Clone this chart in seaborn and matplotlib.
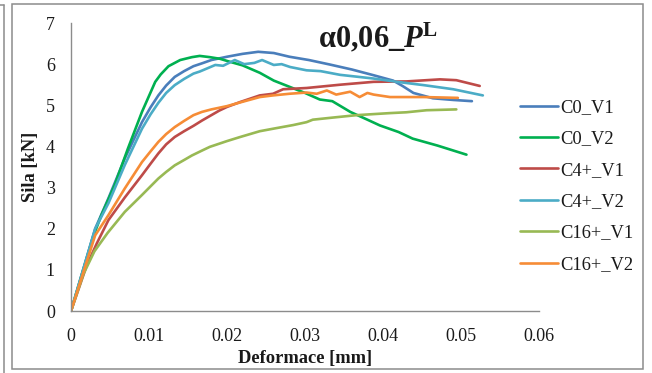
import matplotlib
matplotlib.use('Agg')
import matplotlib.pyplot as plt
from matplotlib.lines import Line2D
from matplotlib.patches import Rectangle
import pandas as pd
import seaborn as sns

# hodnoty (deformace v mm, sila v kN)
c0_v1_x = [0, 0.0031, 0.0048, 0.0069, 0.0091, 0.0102, 0.0112, 0.0122, 0.0133, 0.0145, 0.0157, 0.0168,
           0.018, 0.02, 0.022, 0.024, 0.026, 0.028, 0.0305, 0.0332, 0.036, 0.0388, 0.0413, 0.0425,
           0.0439, 0.0464, 0.049, 0.0514]
c0_v1_y = [0, 2.0, 2.74, 3.71, 4.59, 4.95, 5.24, 5.48, 5.69, 5.83, 5.95, 6.02,
           6.1, 6.18, 6.25, 6.3, 6.27, 6.18, 6.1, 5.99, 5.87, 5.73, 5.6, 5.47,
           5.3, 5.17, 5.13, 5.1]

c0_v2_x = [0, 0.0029, 0.0039, 0.0056, 0.0073, 0.0091, 0.0108, 0.0115, 0.0125, 0.014, 0.0155, 0.0165,
           0.0178, 0.0191, 0.0205, 0.022, 0.0242, 0.026, 0.028, 0.03, 0.0319, 0.0335, 0.0358, 0.038,
           0.0396, 0.042, 0.0438, 0.047, 0.0507]
c0_v2_y = [0, 1.84, 2.33, 3.06, 3.95, 4.84, 5.57, 5.75, 5.95, 6.1, 6.17, 6.2,
           6.17, 6.13, 6.05, 5.97, 5.79, 5.6, 5.45, 5.3, 5.14, 5.1, 4.84, 4.65,
           4.51, 4.35, 4.19, 4.02, 3.8]

c4_v1_x = [0, 0.002, 0.0033, 0.0048, 0.0069, 0.0091, 0.0102, 0.0112, 0.0122, 0.0133, 0.0145, 0.0157,
           0.0168, 0.019, 0.02, 0.0217, 0.0242, 0.0259, 0.0272, 0.0302, 0.0345, 0.0388, 0.043, 0.0473,
           0.0494, 0.0524]
c4_v1_y = [0, 1.1, 1.64, 2.21, 2.76, 3.3, 3.58, 3.83, 4.05, 4.23, 4.37, 4.5,
           4.63, 4.87, 4.96, 5.08, 5.24, 5.28, 5.39, 5.42, 5.5, 5.57, 5.58, 5.63,
           5.61, 5.47]

c4_v2_x = [0, 0.0031, 0.0048, 0.0069, 0.0091, 0.0102, 0.0112, 0.0122, 0.0133, 0.0145, 0.0157, 0.0165,
           0.0175, 0.0185, 0.0195, 0.021, 0.0222, 0.0235, 0.0245, 0.026, 0.027, 0.0281, 0.0302, 0.032,
           0.0345, 0.0388, 0.0418, 0.0452, 0.049, 0.0528]
c4_v2_y = [0, 2.0, 2.62, 3.55, 4.43, 4.78, 5.06, 5.3, 5.49, 5.64, 5.77, 5.82,
           5.9, 5.98, 5.96, 6.1, 6.0, 6.03, 6.1, 5.98, 6.0, 5.93, 5.85, 5.83,
           5.74, 5.65, 5.57, 5.49, 5.39, 5.24]

c16_v1_x = [0, 0.0016, 0.003, 0.0047, 0.0069, 0.0091, 0.0102, 0.0112, 0.0122, 0.0133, 0.0145, 0.0155,
            0.0168, 0.0178, 0.02, 0.0217, 0.0242, 0.0259, 0.0285, 0.0302, 0.031, 0.0335, 0.0366, 0.0409,
            0.043, 0.0456, 0.0494]
c16_v1_y = [0, 0.9, 1.45, 1.9, 2.41, 2.82, 3.03, 3.22, 3.38, 3.54, 3.67, 3.78,
            3.9, 3.99, 4.13, 4.23, 4.37, 4.43, 4.52, 4.59, 4.65, 4.7, 4.76, 4.81,
            4.83, 4.88, 4.9]

c16_v2_x = [0, 0.0031, 0.0048, 0.0069, 0.0091, 0.0102, 0.0112, 0.0122, 0.0133, 0.0145, 0.0157, 0.0168,
            0.018, 0.02, 0.0217, 0.0242, 0.0259, 0.028, 0.0302, 0.0315, 0.0328, 0.034, 0.0358, 0.037,
            0.038, 0.0388, 0.0409, 0.0452, 0.0496]
c16_v2_y = [0, 1.84, 2.33, 2.98, 3.62, 3.88, 4.11, 4.3, 4.47, 4.62, 4.76, 4.84,
            4.9, 4.98, 5.07, 5.2, 5.24, 5.28, 5.31, 5.28, 5.36, 5.26, 5.33, 5.2,
            5.3, 5.26, 5.2, 5.2, 5.18]

serie = ['C0_V1', 'C0_V2', 'C4+_V1', 'C4+_V2', 'C16+_V1', 'C16+_V2']
barvy = ['#4A7EBB', '#00B050', '#BE4B48', '#4BACC6', '#98B954', '#F68C36']

xs = [c0_v1_x, c0_v2_x, c4_v1_x, c4_v2_x, c16_v1_x, c16_v2_x]
ys = [c0_v1_y, c0_v2_y, c4_v1_y, c4_v2_y, c16_v1_y, c16_v2_y]

rows = []
for name, x, y in zip(serie, xs, ys):
    for a, b in zip(x, y):
        rows.append({'Deformace': a, 'Sila': b, 'serie': name})
df = pd.DataFrame(rows)

sns.set_style('white')
plt.rcParams['font.family'] = ['Liberation Serif', 'DejaVu Serif']
plt.rcParams['mathtext.fontset'] = 'custom'
plt.rcParams['mathtext.rm'] = 'Liberation Serif'
plt.rcParams['mathtext.bf'] = 'Liberation Serif:bold'
plt.rcParams['mathtext.it'] = 'Liberation Serif:italic'
plt.rcParams['mathtext.bfit'] = 'Liberation Serif:italic:bold'

fig = plt.figure(figsize=(6.52, 3.73), dpi=100)
ax = fig.add_axes([71/652, 62/373, 468/652, 288/373])

sns.lineplot(data=df, x='Deformace', y='Sila', hue='serie', hue_order=serie,
             palette=barvy, sort=False, estimator=None, linewidth=1.9, ax=ax)

ax.set_xlim(0, 0.06)
ax.set_ylim(0, 7)
ax.set_xticks([0, 0.01, 0.02, 0.03, 0.04, 0.05, 0.06])
ax.set_xticklabels(['0', '0.01', '0.02', '0.03', '0.04', '0.05', '0.06'])
ax.set_yticks(range(8))
ax.set_yticklabels([str(i) for i in range(8)])

sedy = '#8c8c8c'
for s in ['top', 'right']:
    ax.spines[s].set_visible(False)
for s in ['left', 'bottom']:
    ax.spines[s].set_color(sedy)
    ax.spines[s].set_linewidth(1.0)
ax.tick_params(axis='both', direction='out', length=4.5, width=1.0, color=sedy,
               labelsize=13, labelcolor='#1a1a1a')
ax.tick_params(axis='x', pad=8)
ax.tick_params(axis='y', pad=7)

ax.set_xlabel('Deformace [mm]', fontsize=13.3, fontweight='bold', color='#1a1a1a', labelpad=3)
ax.set_ylabel('Sila [kN]', fontsize=13.3, fontweight='bold', color='#1a1a1a', labelpad=5)

fig.text(378/652, 1 - 47/373, r'$\mathbf{\alpha 0{,}06\_}\mathbfit{P}^{\mathbf{L}}$',
         fontsize=22, ha='center', va='baseline', color='#1a1a1a')

ax.get_legend().remove()
handles = [Line2D([], [], color=c, linewidth=1.9) for c in barvy]
fig.legend(handles, serie, loc='center left', bbox_to_anchor=(520/652, 1 - 186/373),
           frameon=False, fontsize=13.3, handlelength=2.05, handletextpad=0.12,
           labelspacing=0.78, borderpad=0, borderaxespad=0, labelcolor='#1a1a1a')

# ramecek grafu a okraj sousedniho obrazku
fig.patches.append(Rectangle((12/652, 4/373), 631/652, 365/373, transform=fig.transFigure,
                             fill=False, edgecolor=sedy, linewidth=1.1))
fig.lines.append(Line2D([3.5/652, 3.5/652], [0, 1 - 5/373], transform=fig.transFigure,
                        color=sedy, linewidth=1.1))
fig.lines.append(Line2D([0, 3.5/652], [1 - 5/373, 1 - 5/373], transform=fig.transFigure,
                        color=sedy, linewidth=1.1))

fig.savefig('out.png', dpi=100)
